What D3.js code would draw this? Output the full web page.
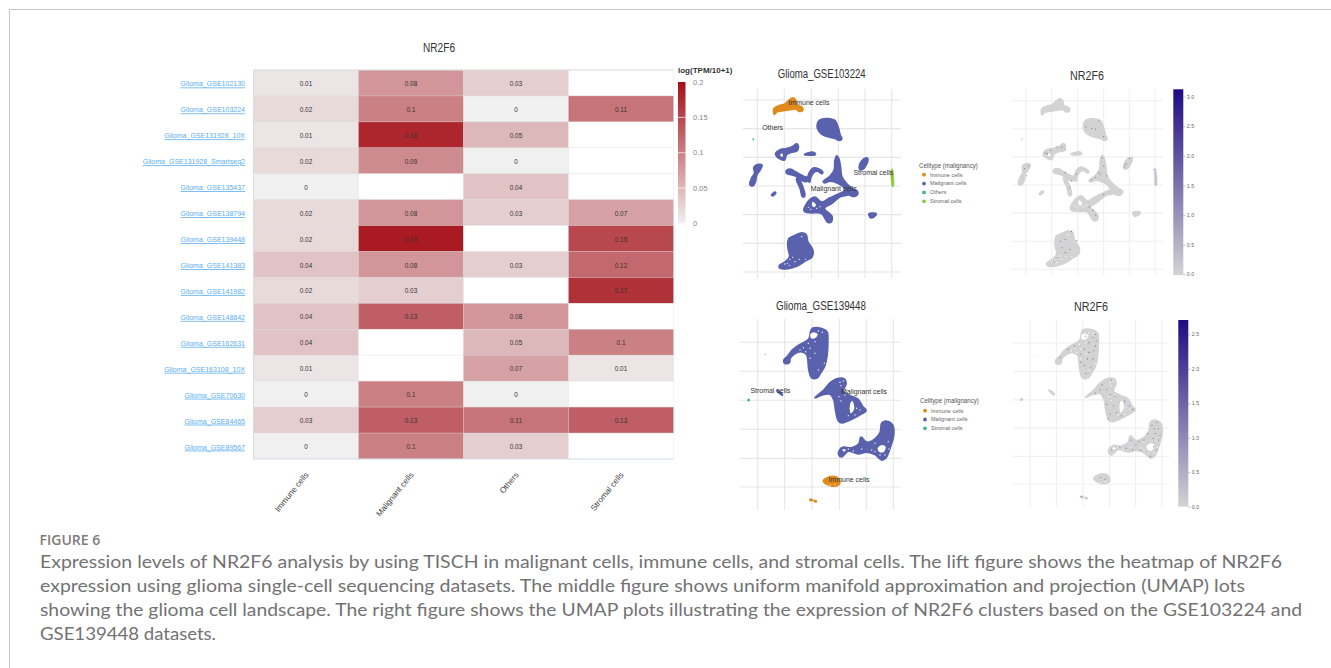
<!DOCTYPE html>
<html><head><meta charset="utf-8">
<script src="https://cdn.jsdelivr.net/npm/d3@7"></script>
<style>html,body{margin:0;padding:0;background:#fff;overflow:hidden}svg{display:block}text{font-family:"Liberation Sans",Arial,sans-serif}</style>
</head><body><svg id="c" width="1331" height="668"></svg>
<script>
// ---------- heatmap data ----------
const datasets=["Glioma_GSE102130","Glioma_GSE103224","Glioma_GSE131928_10X","Glioma_GSE131928_Smartseq2","Glioma_GSE135437","Glioma_GSE138794","Glioma_GSE139448","Glioma_GSE141383","Glioma_GSE141982","Glioma_GSE148842","Glioma_GSE162631","Glioma_GSE163108_10X","Glioma_GSE70630","Glioma_GSE84465","Glioma_GSE89567"];
const cellTypes=["Immune cells","Malignant cells","Others","Stromal cells"];
const immuneValues=[.01,.02,.01,.02,0,.02,.02,.04,.02,.04,.04,.01,0,.03,0];
const malignantValues=[.08,.1,.18,.09,null,.08,.19,.08,.03,.13,null,null,.1,.13,.1];
const othersValues=[.03,0,.05,0,.04,.03,null,.03,null,.08,.05,.07,0,.11,.03];
const stromalValues=[null,.11,null,null,null,.07,.15,.12,.17,null,.1,.01,null,.13,null];
const heatTicks=[0,.05,.1,.15,.2];
// ---------- embedding outlines (embedding units) ----------
const gridA={x:[52,133,214,295,375,455],y:[120,206,292,378,464,550,636]};
const malignantA=[
[[232,200],[240,180],[262,176],[285,182],[295,205],[300,225],[305,236],[298,241],[285,235],[265,230],[245,222]],
[[107,282],[120,270],[140,266],[158,260],[170,252],[175,262],[170,273],[155,276],[140,283],[133,300],[120,296],[111,290]],
[[194,284],[205,279],[220,277],[226,283],[212,285]],
[[30,372],[35,355],[44,340],[42,322],[52,314],[66,316],[60,330],[50,345],[46,365],[40,376],[32,376]],
[[95,405],[105,397],[107,399],[98,407]],
[[358,322],[364,305],[378,294],[383,296],[378,315],[367,328],[360,328]],
[[139,333],[150,328],[172,339],[195,351],[204,353],[203,363],[190,363],[172,350],[150,343],[140,339]],
[[174,352],[186,375],[194,408],[188,410],[181,385],[170,358]],
[[204,360],[208,339],[222,324],[235,327],[248,337],[246,341],[232,333],[220,338],[211,355],[209,366]],
[[250,365],[270,349],[283,330],[285,302],[290,288],[296,296],[301,320],[305,350],[320,372],[338,387],[353,396],[350,406],[335,408],[322,398],[310,380],[295,370],[270,363],[253,368]],
[[192,450],[200,431],[212,417],[225,412],[245,427],[270,414],[300,400],[318,394],[330,402],[300,410],[275,430],[253,445],[276,470],[273,486],[263,486],[245,460],[215,458],[196,456]],
[[387,462],[398,460],[408,461],[402,470],[392,473]],
[[144,560],[147,536],[165,527],[185,519],[198,524],[203,545],[218,570],[216,590],[195,603],[170,618],[140,626],[120,624],[118,618],[137,605],[149,590]]];
const holesA=[[[121,283],[127,281],[129,289],[123,290]],[[218,425],[228,434],[222,442],[216,436]]];
const immuneA=[[[102,146],[118,137],[135,132],[148,120],[158,114],[168,122],[170,135],[186,141],[188,151],[178,154],[168,147],[150,149],[130,152],[110,156],[103,163]]];
const othersA=[[[38,236],[41,236],[42,240],[39,240]]];
const stromalA=[[[454,328],[457,328],[460,380],[457,380]]];
const dotsHoleA=[[150,598],[158,592],[142,610],[135,612],[148,616],[165,605],[185,530],[178,598],[230,445],[240,440],[212,448],[205,442],[196,598]];
const speckA=[[258,205],[280,182],[270,207],[240,200],[295,230],[130,272],[120,282],[150,262],[165,262],[175,270],[113,280],[290,295],[295,320],[280,340],[305,350],[270,355],[285,345],[258,362],[210,345],[195,365],[175,340],[190,385],[55,350],[60,320],[48,328],[365,315],[360,322],[375,297],[452,330],[455,375],[295,408],[262,455],[270,470],[250,445],[160,550],[175,545],[195,520],[190,575],[175,585],[150,600],[210,548],[165,570],[140,612]];
const gridB={x:[68,149,231,313,394,475],y:[142,229,316,403,490,576]};
const malignantB=[
[[147,195],[157,185],[172,166],[190,152],[205,144],[222,132],[228,107],[234,100],[262,102],[276,111],[278,140],[276,180],[268,215],[256,235],[247,248],[230,248],[222,225],[215,178],[200,170],[180,175],[165,190],[163,203],[150,205]],
[[240,308],[265,287],[285,264],[305,252],[328,252],[333,265],[325,290],[345,302],[368,312],[383,335],[393,347],[380,356],[355,370],[320,383],[310,376],[302,345],[297,315],[285,297],[260,300]],
[[126,286],[139,295],[142,300],[130,291]],
[[314,465],[325,457],[350,459],[372,447],[378,427],[395,442],[420,432],[436,412],[441,384],[460,380],[473,391],[476,420],[468,450],[453,488],[441,495],[420,478],[395,471],[370,476],[340,468],[320,485],[312,480]]];
const holesB=[[[226,118],[236,112],[248,118],[240,130],[228,130]],[[346,325],[352,318],[358,338],[352,352],[347,355]],[[428,460],[440,450],[452,455],[445,472],[432,470]],[[322,464],[332,464],[328,470]]];
const immuneB=[[[265,558],[275,549],[295,544],[310,551],[314,565],[300,573],[280,570]],[[225,613],[231,613],[231,616],[226,616]],[[237,617],[244,618],[244,620],[238,619]]];
const stromalB=[[[37,315],[42,311],[44,316],[40,319]],[[90,178],[91,178],[91,179],[90,179]]];
const dotsHoleB=[[240,140],[220,145],[250,108],[262,112],[205,158],[195,165],[212,170],[225,160],[315,262],[325,258],[318,272],[330,300],[312,305],[318,318],[365,340],[345,340],[360,360],[340,362],[352,300],[375,345],[340,462],[355,468],[380,462],[420,445],[460,440],[462,462],[420,470],[410,465],[435,480],[450,480],[285,570],[300,568],[225,190],[240,175],[268,205],[250,225]];
const speckB=[[240,120],[250,140],[262,125],[270,150],[235,160],[225,175],[245,190],[262,190],[235,210],[255,215],[270,115],[205,150],[185,160],[160,185],[240,235],[265,165],[225,200],[250,170],[272,135],
[270,295],[290,270],[305,285],[320,255],[315,300],[305,330],[325,335],[335,355],[315,360],[360,320],[375,335],[350,365],[330,305],[310,375],[285,285],[385,345],
[320,470],[345,462],[365,465],[380,440],[395,455],[405,445],[420,440],[432,420],[445,395],[460,385],[465,405],[455,420],[470,425],[448,435],[465,440],[450,460],[440,490],[410,470],[385,470],[460,470],[452,405],
[285,555],[300,560],[226,614]];
const legendA=["Immune cells","Malignant cells","Others","Stromal cells"];
const legendAColors=["#e08a1e","#5a62ad","#45b592","#8fc93a"];
const legendB=["Immune cells","Malignant cells","Stromal cells"];
const legendBColors=["#e08a1e","#5a62ad","#45b592"];
const geneTicksA=[0,.5,1,1.5,2,2.5,3];
const geneTicksB=[0,.5,1,1.5,2,2.5];
const captionLines=["Expression levels of NR2F6 analysis by using TISCH in malignant cells, immune cells, and stromal cells. The lift figure shows the heatmap of NR2F6","expression using glioma single-cell sequencing datasets. The middle figure shows uniform manifold approximation and projection (UMAP) lots","showing the glioma cell landscape. The right figure shows the UMAP plots illustrating the expression of NR2F6 clusters based on the GSE103224 and","GSE139448 datasets."];

const svg=d3.select("#c");
const squeeze=(sel,k)=>sel.each(function(){this.setAttribute("textLength",this.getComputedTextLength()*k);this.setAttribute("lengthAdjust","spacingAndGlyphs");});
svg.append("path").attr("d","M9.5,668V9.5H1331").attr("fill","none").attr("stroke","#c6c6c6").attr("stroke-width",1);
const defs=svg.append("defs");
defs.append("filter").attr("id","soft").attr("x","-5%").attr("y","-5%").attr("width","110%").attr("height","110%")
 .append("feGaussianBlur").attr("stdDeviation",.35);

// ---------- heatmap ----------
const x=d3.scaleBand().domain(cellTypes).range([253.5,673.5]);
const y=d3.scaleBand().domain(datasets).range([70,459]);
const heatColor=d3.scaleLinear().domain([0,.2]).range(["#f0f0f0","#a50f18"]);
const columns=[immuneValues,malignantValues,othersValues,stromalValues];
const heat=svg.append("g");
cellTypes.forEach((c,ci)=>{
 const g=heat.append("g");
 const rows=datasets.map((d,i)=>({d,v:columns[ci][i]}));
 g.selectAll("rect").data(rows).join("rect")
  .attr("x",x(c)).attr("y",r=>y(r.d)).attr("width",x.bandwidth()).attr("height",y.bandwidth())
  .attr("fill",r=>r.v===null?"#fff":heatColor(r.v)).attr("stroke","#d8d8d8").attr("stroke-opacity",.35).attr("stroke-width",.8);
 g.selectAll("text").data(rows.filter(r=>r.v!==null)).join("text")
  .attr("x",x(c)+x.bandwidth()/2).attr("y",r=>y(r.d)+y.bandwidth()/2+3)
  .attr("text-anchor","middle").attr("font-size",6.4).attr("fill","#333").text(r=>String(r.v));
});
heat.append("path").attr("d",`M${x.range()[0]},${y.range()[1]}H${x.range()[1]}`).attr("stroke","#d3dde9").attr("fill","none");
heat.append("path").attr("d",`M${x.range()[0]},${y.range()[1]}V${y.range()[0]}H${x.range()[1]}`).attr("stroke","#dcdcdc").attr("fill","none");

const axL=svg.append("g").attr("transform","translate(245,1)").call(d3.axisLeft(y).tickSize(0).tickPadding(0));
axL.select(".domain").remove();
axL.selectAll("text").attr("font-size",7.8).attr("fill","#59aef0").attr("text-decoration","underline").attr("font-family",null).call(squeeze,.9);
const axB=svg.append("g").attr("transform","translate(0,472)").call(d3.axisBottom(x).tickSize(0).tickPadding(0));
axB.select(".domain").remove();
axB.selectAll("text").attr("font-size",8.2).attr("fill","#444").attr("font-family",null)
 .attr("text-anchor","end").attr("dy",0).attr("y",0).attr("transform","translate(3,3) rotate(-51)");
const head=(t,cx,cy,fs,w)=>svg.append("text").attr("x",cx).attr("y",cy).attr("text-anchor","middle").attr("font-size",fs).attr("fill","#333").attr("textLength",w).attr("lengthAdjust","spacingAndGlyphs").text(t);
head("NR2F6",439,51.5,12.5,32);

// heat legend
const hScale=d3.scaleLinear().domain([0,.2]).range([223.5,82]);
const hGrad=defs.append("linearGradient").attr("id","hg").attr("x1",0).attr("x2",0).attr("y1",1).attr("y2",0);
hGrad.append("stop").attr("offset",0).attr("stop-color",heatColor(0));
hGrad.append("stop").attr("offset",1).attr("stop-color",heatColor(.2));
svg.append("rect").attr("x",678).attr("y",hScale(.2)).attr("width",7.5).attr("height",hScale(0)-hScale(.2)).attr("fill","url(#hg)");
svg.selectAll(".hm").data(heatTicks.slice(1,4)).join("line").attr("x1",678).attr("x2",685.5).attr("y1",hScale).attr("y2",hScale).attr("stroke","#fff").attr("stroke-width",.7);
svg.selectAll(".hl").data(heatTicks).join("text").attr("x",693).attr("y",d=>hScale(d)+2.5).attr("font-size",7.5).attr("fill","#888").text(String);
svg.append("text").attr("x",678).attr("y",73).attr("font-size",8).attr("font-weight","bold").attr("fill","#333").text("log(TPM/10+1)");

// ---------- embeddings ----------
const blob=d3.line().curve(d3.curveCatmullRomClosed.alpha(.5));
function frame(grid,r){
 const g=svg.append("g");
 const sx=d3.scaleLinear().domain([grid.x[0],grid.x[5]]).range(r.x);
 const sy=d3.scaleLinear().domain([grid.y[0],grid.y[grid.y.length-1]]).range(r.y);
 g.selectAll(".v").data(grid.x).join("line").attr("x1",sx).attr("x2",sx).attr("y1",r.top).attr("y2",r.bot).attr("stroke",r.grid).attr("stroke-width",1.1);
 g.selectAll(".h").data(grid.y).join("line").attr("y1",sy).attr("y2",sy).attr("x1",r.left).attr("x2",r.right).attr("stroke",r.grid).attr("stroke-width",1.1);
 const marks=g.append("g").attr("filter","url(#soft)");
 const draw=(list,fill,sw)=>marks.append("g").selectAll("path").data(list).join("path")
   .attr("d",p=>blob(p.map(q=>[sx(q[0]),sy(q[1])]))).attr("fill",fill).attr("stroke",fill).attr("stroke-width",sw).attr("stroke-linejoin","round");
 return {g,sx,sy,draw,marks};
}
function clusters(p,sets){sets.forEach(s=>p.draw(s[0],s[1],s[2]));}
function labels(p,list){
 p.g.selectAll(".l").data(list).join("text").attr("x",d=>p.sx(d[1])).attr("y",d=>p.sy(d[2])+2.8)
  .attr("text-anchor","middle").attr("font-size",8).attr("fill","#333").text(d=>d[0]).call(squeeze,.87);
}
function dots(p,list,fill,r,op){
 p.marks.append("g").selectAll("circle").data(list).join("circle").attr("cx",d=>p.sx(d[0])).attr("cy",d=>p.sy(d[1])).attr("r",r).attr("fill",fill).attr("opacity",op);
}
function legend(names,cols,tx,ty,cx,tex,ys){
 svg.append("text").attr("x",tx).attr("y",ty).attr("font-size",6.8).attr("fill","#555").text("Celltype (malignancy)").call(squeeze,.9);
 const l=d3.scalePoint().domain(names).range(ys);
 svg.selectAll(null).data(names).join("circle").attr("cx",cx).attr("cy",l).attr("r",1.9).attr("fill",(d,i)=>cols[i]);
 svg.selectAll(null).data(names).join("text").attr("x",tex).attr("y",d=>l(d)+1.9).attr("font-size",5.5).attr("fill","#666").text(d=>d);
}
function colorbar(id,sc,xl,w,top,bot,ticks){
 const gr=defs.append("linearGradient").attr("id",id).attr("x1",0).attr("x2",0).attr("y1",1).attr("y2",0);
 gr.append("stop").attr("offset",0).attr("stop-color","#d3d3d3");
 gr.append("stop").attr("offset",1).attr("stop-color","#1f0a82");
 svg.append("rect").attr("x",xl).attr("y",top).attr("width",w).attr("height",bot-top).attr("fill",`url(#${id})`);
 const a=svg.append("g").attr("transform",`translate(${xl+w},0)`).call(d3.axisRight(sc).tickValues(ticks).tickFormat(d3.format(".1f")).tickSize(2).tickPadding(1.5));
 a.select(".domain").remove();
 a.selectAll("line").attr("stroke","#777").attr("stroke-width",.5);
 a.selectAll("text").attr("font-size",5.2).attr("fill","#666").attr("font-family",null);
}
const MAL="#5a62ad",GREY="#d3d3d3";
// panel 1
const p1=frame(gridA,{x:[757.3,891.7],y:[100,272],top:89,bot:278,left:743,right:901,grid:"#e6e6e6"});
clusters(p1,[[malignantA,MAL,2],[holesA,"#fff",0],[immuneA,"#e08a1e",1.8],[othersA,"#45b592",.4],[stromalA,"#8fc93a",.8]]);
dots(p1,dotsHoleA,"#fff",.7,.9);
labels(p1,[["Immune cells",207,127],["Others",98,203],["Stromal cells",400,338],["Malignant cells",281,386]]);
head("Glioma_GSE103224",821.7,78,12,88);
legend(legendA,legendAColors,919,167.5,924,930,[174.7,201.3]);

// panel 2
const p2=frame(gridA,{x:[1025.7,1155],y:[100.7,269.3],top:89,bot:275,left:1011,right:1163,grid:"#f0f0f0"});
clusters(p2,[[malignantA,GREY,2],[holesA,"#fff",0],[immuneA,GREY,1.8],[othersA,GREY,.4],[stromalA,"#c8c8d4",.5]]);
dots(p2,dotsHoleA,"#fff",.7,.9);
dots(p2,speckA,"#4a3f9f",.55,.75);
head("NR2F6",1087,79.5,13,34);
const g1=d3.scaleLinear().domain([0,3]).range([274.3,96.7]);
colorbar("g1",g1,1173.3,10,89.3,275,geneTicksA);

// panel 3
const p3=frame(gridB,{x:[757.7,893.3],y:[342.3,487],top:319,bot:510,left:740,right:901,grid:"#e6e6e6"});
clusters(p3,[[malignantB,MAL,2],[holesB,"#fff",0],[immuneB,"#e08a1e",1.8],[stromalB,"#45b592",.8]]);
dots(p3,dotsHoleB,"#fff",.7,.9);
labels(p3,[["Stromal cells",106,287],["Malignant cells",387,289],["Immune cells",342,553]]);
head("Glioma_GSE139448",821,309.5,12,90);
legend(legendB,legendBColors,920,402.8,925,931,[410.7,428.3]);

// panel 4
const p4=frame(gridB,{x:[1030.3,1161.7],y:[343.3,484.3],top:320,bot:507,left:1013,right:1169,grid:"#f0f0f0"});
clusters(p4,[[malignantB,GREY,2],[holesB,"#fff",0],[immuneB,GREY,1.8],[stromalB,"#c0c0cc",.6]]);
dots(p4,dotsHoleB,"#fff",.7,.9);
dots(p4,speckB,"#4a3f9f",.55,.75);
head("NR2F6",1091,310.5,13,34);
const g2=d3.scaleLinear().domain([0,2.5]).range([506.7,334.3]);
colorbar("g2",g2,1178.3,10,320,506.7,geneTicksB);

// ---------- caption ----------
svg.append("text").attr("x",39.5).attr("y",544.5).attr("font-size",14).attr("font-weight",600).attr("fill","#7c7c7c").attr("style","font-family:'Open Sans'").text("FIGURE 6");
const capEnds=[1282,1245,1302,216];
svg.selectAll(null).data(captionLines).join("text").attr("x",40).attr("y",(d,i)=>567.5+i*24)
 .attr("font-size",17).attr("fill","#727272").attr("style","font-family:Lato")
 .attr("textLength",(d,i)=>capEnds[i]-40).attr("lengthAdjust","spacingAndGlyphs").text(d=>d);
</script></body></html>
